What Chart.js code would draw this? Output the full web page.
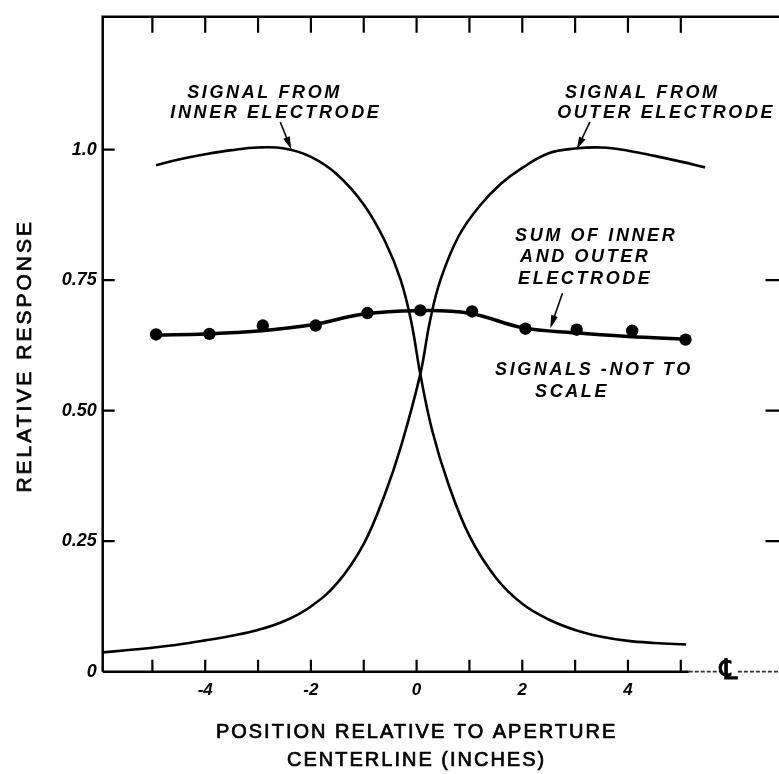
<!DOCTYPE html>
<html><head><meta charset="utf-8">
<script src="https://cdn.jsdelivr.net/npm/chart.js@4.4.1/dist/chart.umd.min.js"></script>
<style>
html,body{margin:0;padding:0;background:#fff;overflow:hidden;}
#wrap{width:800px;height:774px;position:relative;}
</style></head><body>
<div id="wrap"><canvas id="c" width="800" height="774"></canvas></div>
<script>
// ---- data ----
const xTickValues = [-5,-4,-3,-2,-1,0,1,2,3,4,5];
const xTickLabels = ["","-4","","-2","","0","","2","","4",""];
const yTickValues = [0,0.25,0.5,0.75,1.0];
const yTickLabels = ["0","0.25","0.50","0.75","1.0"];
const rightTickValues = [0.25,0.5,0.75];

const innerX = [-4.93,-4.5,-4,-3.5,-3,-2.5,-2,-1.5,-1,-0.6,-0.3,-0.1,0.07,0.3,0.6,1.0,1.5,2.0,2.5,3.0,3.5,4.0,4.5,5.1];
const innerY = [0.970,0.981,0.991,0.999,1.004,1.002,0.986,0.952,0.895,0.825,0.75,0.67,0.57,0.46,0.36,0.26,0.18,0.13,0.10,0.08,0.067,0.059,0.055,0.052];

const outerX = [-5.94,-5.5,-5,-4.5,-4,-3.5,-3,-2.5,-2,-1.5,-1,-0.6,-0.3,0.07,0.25,0.45,0.8,1.2,1.6,2.0,2.5,3.0,3.5,4.0,4.5,5.0,5.46];
const outerY = [0.037,0.041,0.046,0.052,0.060,0.069,0.080,0.097,0.125,0.17,0.245,0.34,0.43,0.57,0.67,0.75,0.835,0.893,0.935,0.965,0.993,1.002,1.004,0.998,0.988,0.977,0.966];

const sumPointX = [-4.93,-3.92,-2.91,-1.91,-0.93,0.07,1.05,2.06,3.03,4.08,5.09];
const sumPointY = [0.646,0.647,0.663,0.663,0.687,0.692,0.690,0.657,0.655,0.653,0.636];

const sumLineX = [-4.93,-4,-3,-2,-1,0,1,2,3,4,5.1];
const sumLineY = [0.645,0.647,0.6525,0.664,0.685,0.6915,0.6867,0.659,0.649,0.642,0.637];

const labelInner = ["SIGNAL FROM","INNER ELECTRODE"];
const labelOuter = ["SIGNAL FROM","OUTER ELECTRODE"];
const labelSum = ["SUM OF INNER","AND OUTER","ELECTRODE"];
const labelScale = ["SIGNALS -NOT TO","SCALE"];
const yTitle = "RELATIVE RESPONSE";
const xTitle = ["POSITION RELATIVE TO APERTURE","CENTERLINE (INCHES)"];

const zip = (xs, ys) => xs.map((x,i)=>({x:x, y:ys[i]}));

const decor = {
  id:'decor',
  afterDraw(chart){
    const ctx = chart.ctx;
    const xs = chart.scales.x, ys = chart.scales.y;
    const ca = chart.chartArea;
    const px = v=>xs.getPixelForValue(v), py = v=>ys.getPixelForValue(v);
    ctx.save();
    ctx.strokeStyle = '#000'; ctx.fillStyle = '#000';
    ctx.lineCap = 'butt';
    // frame
    ctx.lineWidth = 2.5;
    ctx.beginPath();
    ctx.moveTo(ca.left, ca.bottom); ctx.lineTo(ca.left, ca.top); ctx.lineTo(ca.right, ca.top); ctx.lineTo(ca.right, ca.bottom);
    ctx.stroke();
    ctx.beginPath();
    ctx.moveTo(ca.left, ca.bottom); ctx.lineTo(px(5.15), ca.bottom);
    ctx.stroke();
    // lighter extension of the baseline
    ctx.save();
    ctx.strokeStyle = '#333'; ctx.lineWidth = 1.8; ctx.setLineDash([4,2]);
    ctx.beginPath();
    ctx.moveTo(px(5.15), ca.bottom); ctx.lineTo(px(5.75), ca.bottom);
    ctx.moveTo(px(6.08), ca.bottom); ctx.lineTo(ca.right, ca.bottom);
    ctx.stroke();
    ctx.restore();
    // ticks
    ctx.lineWidth = 2.2;
    ctx.beginPath();
    xTickValues.forEach(v=>{
      const x = px(v);
      ctx.moveTo(x, ca.bottom); ctx.lineTo(x, ca.bottom-12);
      ctx.moveTo(x, ca.top); ctx.lineTo(x, ca.top+16);
    });
    yTickValues.forEach(v=>{
      if (v===0) return;
      const y = py(v);
      ctx.moveTo(ca.left, y); ctx.lineTo(ca.left+12, y);
    });
    rightTickValues.forEach(v=>{
      const y = py(v);
      ctx.moveTo(ca.right, y); ctx.lineTo(ca.right-21, y);
    });
    ctx.stroke();
    // centerline symbol
    ctx.font = 'italic 28px "DejaVu Sans"';
    ctx.textAlign = 'center'; ctx.textBaseline = 'middle';
    ctx.fillText('\u2104', px(5.9), ca.bottom);
    ctx.lineWidth = 0.8;
    ctx.strokeText('\u2104', px(5.9), ca.bottom);
    // axis titles
    ctx.font = '21px "Liberation Sans"';
    ctx.letterSpacing = '3px';
    ctx.lineWidth = 0.7;
    ctx.save();
    ctx.translate(25, py(0.605));
    ctx.rotate(-Math.PI/2);
    ctx.fillText(yTitle, 0, 0);
    ctx.strokeText(yTitle, 0, 0);
    ctx.restore();
    ctx.font = '20px "Liberation Sans"';
    ctx.letterSpacing = '2px';
    xTitle.forEach((t,i)=>{ ctx.fillText(t, px(0.0), 732+28*i); ctx.strokeText(t, px(0.0), 732+28*i); });
    // annotations
    ctx.font = 'italic bold 18px "Liberation Sans"';
    ctx.letterSpacing = '2.6px';
    ctx.textAlign = 'left';
    const put = (lines, xv, yv0, step) => lines.forEach((t,i)=>ctx.fillText(t, px(xv[i]), py(yv0 - i*step)));
    put(labelInner, [-4.34,-4.66], 1.108, 0.038);
    put(labelOuter, [2.81,2.66], 1.108, 0.038);
    put(labelSum, [1.864,1.958,1.92], 0.835, 0.041);
    put(labelScale, [1.485,2.242], 0.577, 0.042);
    ctx.letterSpacing = '0px';
    // arrows
    const arrow = (x0,y0,x1,y1) => {
      const X0=px(x0),Y0=py(y0),X1=px(x1),Y1=py(y1);
      const a = Math.atan2(Y1-Y0, X1-X0);
      ctx.lineWidth = 1.6;
      ctx.beginPath(); ctx.moveTo(X0,Y0); ctx.lineTo(X1-9*Math.cos(a), Y1-9*Math.sin(a)); ctx.stroke();
      ctx.beginPath();
      ctx.moveTo(X1,Y1);
      ctx.lineTo(X1-13*Math.cos(a)+3.5*Math.sin(a), Y1-13*Math.sin(a)-3.5*Math.cos(a));
      ctx.lineTo(X1-13*Math.cos(a)-3.5*Math.sin(a), Y1-13*Math.sin(a)+3.5*Math.cos(a));
      ctx.closePath(); ctx.fill();
    };
    arrow(-2.58,1.053,-2.37,1.0);
    arrow(3.28,1.053,3.03,1.0);
    arrow(2.76,0.725,2.53,0.658);
    ctx.restore();
  }
};

new Chart(document.getElementById('c'), {
  type:'scatter',
  data:{ datasets:[
    {data: zip(innerX, innerY), showLine:true, borderColor:'#000', borderWidth:2.6, pointRadius:0, tension:0.4, fill:false},
    {data: zip(outerX, outerY), showLine:true, borderColor:'#000', borderWidth:2.6, pointRadius:0, tension:0.4, fill:false},
    {data: zip(sumLineX, sumLineY), showLine:true, borderColor:'#000', borderWidth:3.5, pointRadius:0, tension:0.4, fill:false},
    {data: zip(sumPointX, sumPointY), showLine:false, pointRadius:6.2, pointBackgroundColor:'#000', pointBorderColor:'#000', pointBorderWidth:0}
  ]},
  options:{
    responsive:false, animation:false,
    layout:{padding:{top:11, right:13.5, left:0, bottom:0}},
    plugins:{legend:{display:false}, tooltip:{enabled:false}},
    scales:{
      x:{type:'linear', min:-5.94, max:7,
        afterBuildTicks(s){ s.ticks = xTickValues.map(v=>({value:v})); },
        afterFit(s){ s.height = 102.3; },
        grid:{display:false, drawTicks:false}, border:{display:false},
        ticks:{autoSkip:false, maxRotation:0, padding:8, color:'#000',
          font:{family:'"Liberation Sans"', size:17, style:'italic', weight:'bold'},
          callback(v){ const i = xTickValues.indexOf(v); return i>=0 ? xTickLabels[i] : ''; }}
      },
      y:{type:'linear', min:0, max:1.2544,
        afterBuildTicks(s){ s.ticks = yTickValues.map(v=>({value:v})); },
        afterFit(s){ s.width = 102.7; },
        grid:{display:false, drawTicks:false}, border:{display:false},
        ticks:{autoSkip:false, padding:6, color:'#000',
          font:{family:'"Liberation Sans"', size:18, style:'italic', weight:'bold'},
          callback(v){ const i = yTickValues.indexOf(v); return i>=0 ? yTickLabels[i] : ''; }}
      }
    }
  },
  plugins:[decor]
});
</script>
</body></html>
